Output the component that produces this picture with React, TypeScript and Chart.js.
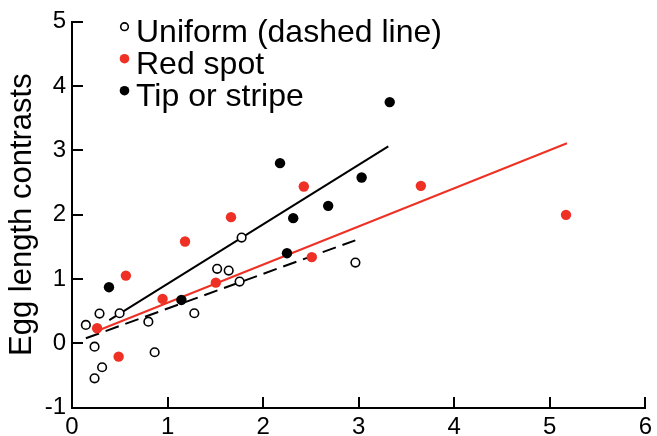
import React, { useEffect, useRef } from "react";
import { Chart, registerables } from "chart.js";

Chart.register(...registerables);

// ---- data ----
const xTicks = [0, 1, 2, 3, 4, 5, 6];
const yTicks = [-1, 0, 1, 2, 3, 4, 5];
const seriesNames = ["Uniform (dashed line)", "Red spot", "Tip or stripe"];
const yTitle = "Egg length contrasts";

const uniformX = [0.145, 0.288, 0.236, 0.236, 0.315, 0.498, 0.799, 0.865, 1.28, 1.519, 1.64, 1.754, 1.775, 2.966];
const uniformY = [0.284, 0.46, -0.054, -0.546, -0.374, 0.466, 0.335, -0.141, 0.466, 1.156, 1.129, 0.958, 1.643, 1.254];

const redX = [0.263, 0.488, 0.564, 0.948, 1.183, 1.505, 1.664, 2.426, 2.509, 3.651, 5.17];
const redY = [0.233, -0.209, 1.051, 0.689, 1.581, 0.942, 1.96, 2.437, 1.338, 2.447, 1.996];

const tipX = [0.387, 1.145, 2.177, 2.25, 2.315, 2.681, 3.031, 3.325];
const tipY = [0.871, 0.673, 2.8, 1.4, 1.945, 2.136, 2.577, 3.75];

// fitted lines (end points)
const uniformFitX = [0.145, 2.965];
const uniformFitY = [0.077, 1.6];
const redFitX = [0.26, 5.18];
const redFitY = [0.19, 3.11];
const tipFitX = [0.39, 3.31];
const tipFitY = [0.36, 3.06];

const RED = "#ee3124";
const FONT = "'Liberation Sans', Arial, Helvetica, sans-serif";

const pts = (xs: number[], ys: number[]) => xs.map((x, i) => ({ x, y: ys[i] }));

const decorPlugin = {
  id: "decor",
  afterDraw(chart: any) {
    const ctx = chart.ctx;
    const area = chart.chartArea;
    const sx = chart.scales.x;
    const sy = chart.scales.y;
    const len = 11;

    // axis lines and inward tick marks
    ctx.save();
    ctx.setLineDash([]);
    ctx.strokeStyle = "#000000";
    ctx.lineWidth = 2;
    ctx.lineCap = "butt";
    const x0 = Math.round(sx.getPixelForValue(xTicks[0]));
    const x1 = Math.round(sx.getPixelForValue(xTicks[xTicks.length - 1]));
    const yb = Math.round(sy.getPixelForValue(yTicks[0]));
    const yt = Math.round(sy.getPixelForValue(yTicks[yTicks.length - 1]));
    ctx.beginPath();
    ctx.moveTo(x0, yt - 1);
    ctx.lineTo(x0, yb);
    ctx.moveTo(x0 - 1, yb);
    ctx.lineTo(x1 + 1, yb);
    for (const v of xTicks) {
      const px = Math.round(sx.getPixelForValue(v));
      ctx.moveTo(px, yb);
      ctx.lineTo(px, yb - len);
    }
    for (const v of yTicks) {
      const py = Math.round(sy.getPixelForValue(v));
      ctx.moveTo(x0, py);
      ctx.lineTo(x0 + len, py);
    }
    ctx.stroke();
    ctx.restore();

    // legend inside the plot
    const markerX = 124.5;
    const textX = 136;
    const firstMarkerY = 26.7;
    const firstBaseline = 41.5;
    const step = 32;
    ctx.save();
    for (let i = 0; i < 3; i++) {
      const ds = chart.data.datasets[i];
      const my = firstMarkerY + i * step;
      ctx.beginPath();
      ctx.arc(markerX, my, i === 0 ? 3.8 : 4.8, 0, Math.PI * 2);
      ctx.fillStyle = ds.pointBackgroundColor;
      ctx.fill();
      if (ds.pointBorderWidth > 0) {
        ctx.lineWidth = ds.pointBorderWidth;
        ctx.strokeStyle = ds.pointBorderColor;
        ctx.stroke();
      }
      ctx.fillStyle = "#000";
      ctx.font = `32px ${FONT}`;
      ctx.textAlign = "left";
      ctx.textBaseline = "alphabetic";
      ctx.fillText(ds.label, textX, firstBaseline + i * step);
    }
    ctx.restore();
  },
};

export default function App() {
  const ref = useRef<HTMLCanvasElement | null>(null);

  useEffect(() => {
    if (!ref.current) return;
    const chart = new Chart(ref.current, {
      type: "scatter",
      data: {
        datasets: [
          {
            label: seriesNames[0],
            data: pts(uniformX, uniformY),
            pointRadius: 4.3,
            pointBorderWidth: 1.6,
            pointBackgroundColor: "#ffffff",
            pointBorderColor: "#000000",
            order: 1,
          },
          {
            label: seriesNames[1],
            data: pts(redX, redY),
            pointRadius: 5.2,
            pointBorderWidth: 0,
            pointBackgroundColor: RED,
            pointBorderColor: RED,
            order: 1,
          },
          {
            label: seriesNames[2],
            data: pts(tipX, tipY),
            pointRadius: 5.2,
            pointBorderWidth: 0,
            pointBackgroundColor: "#000000",
            pointBorderColor: "#000000",
            order: 1,
          },
          {
            label: "Uniform fit",
            data: pts(uniformFitX, uniformFitY),
            showLine: true,
            borderColor: "#000000",
            borderWidth: 2,
            borderDash: [14, 7],
            pointRadius: 0,
            fill: false,
            order: 2,
          },
          {
            label: "Red spot fit",
            data: pts(redFitX, redFitY),
            showLine: true,
            borderColor: RED,
            borderWidth: 2,
            pointRadius: 0,
            fill: false,
            order: 2,
          },
          {
            label: "Tip or stripe fit",
            data: pts(tipFitX, tipFitY),
            showLine: true,
            borderColor: "#000000",
            borderWidth: 2,
            pointRadius: 0,
            fill: false,
            order: 2,
          },
        ] as any,
      },
      options: {
        responsive: false,
        animation: false,
        events: [],
        layout: { padding: { top: 21.7, right: 7, left: 0, bottom: 0 } },
        plugins: {
          legend: { display: false },
          tooltip: { enabled: false },
        },
        scales: {
          x: {
            type: "linear",
            min: 0,
            max: 6,
            afterBuildTicks: (s: any) => {
              s.ticks = xTicks.map((v) => ({ value: v }));
            },
            afterFit: (s: any) => {
              s.height = 28.5;
            },
            grid: { display: false, drawTicks: false },
            border: { display: false },
            ticks: {
              color: "#000",
              font: { family: FONT, size: 24 },
              padding: 5,
              maxRotation: 0,
              autoSkip: false,
            },
          },
          y: {
            type: "linear",
            min: -1,
            max: 5,
            afterBuildTicks: (s: any) => {
              s.ticks = yTicks.map((v) => ({ value: v }));
            },
            afterFit: (s: any) => {
              s.width = 72;
            },
            grid: { display: false, drawTicks: false },
            border: { display: false },
            ticks: {
              color: "#000",
              font: { family: FONT, size: 24 },
              padding: 6,
              autoSkip: false,
            },
            title: {
              display: true,
              text: yTitle,
              color: "#000",
              font: { family: FONT, size: 31 },
              padding: { top: 4, bottom: 0 },
            },
          },
        },
      } as any,
      plugins: [decorPlugin],
    });
    return () => chart.destroy();
  }, []);

  return (
    <div style={{ position: "absolute", left: 0, top: 0, width: 657, height: 436, background: "#fff" }}>
      <canvas ref={ref} width={657} height={436} style={{ display: "block" }} />
    </div>
  );
}
